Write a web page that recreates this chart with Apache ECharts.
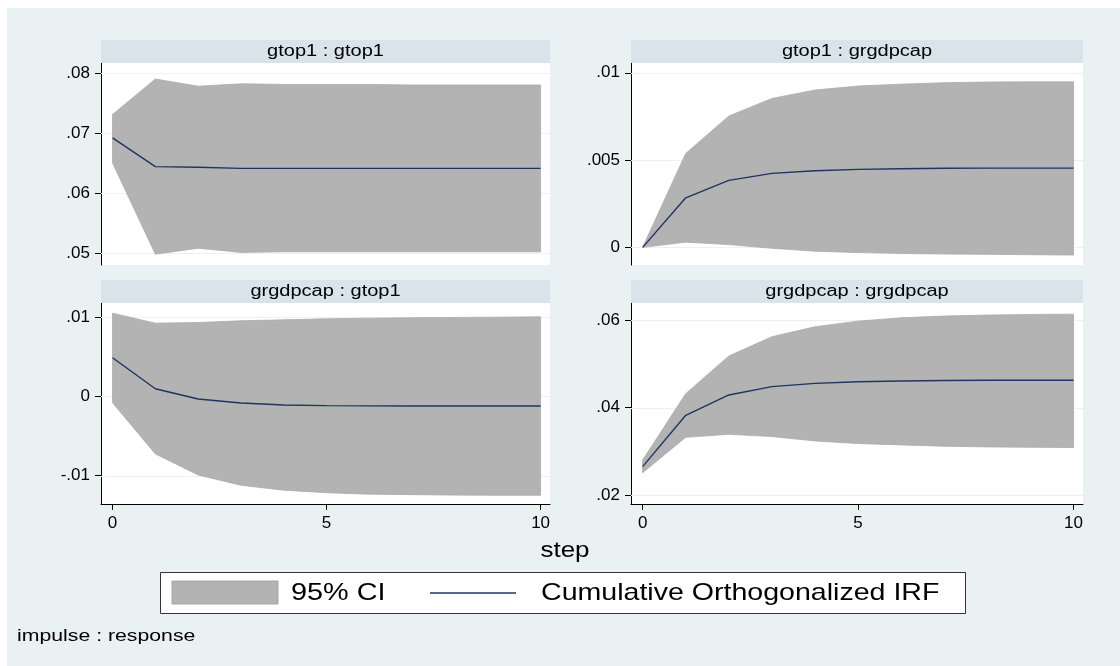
<!DOCTYPE html>
<html><head><meta charset="utf-8">
<script src="https://cdn.jsdelivr.net/npm/echarts@6/dist/echarts.min.js"></script>
<style>html,body{margin:0;padding:0;background:#fff}#c{width:1120px;height:666px}</style>
</head><body><div id="c"></div>
<script>
// ---------- data ----------
const steps = [0, 1, 2, 3, 4, 5, 6, 7, 8, 9, 10];
const panelTitles = ['gtop1 : gtop1', 'gtop1 : grgdpcap', 'grgdpcap : gtop1', 'grgdpcap : grgdpcap'];

const irf_gtop1_gtop1 = [0.0692, 0.0644, 0.0643, 0.0641, 0.0641, 0.0641, 0.0641, 0.0641, 0.0641, 0.0641, 0.0641];
const hi_gtop1_gtop1  = [0.0731, 0.0790, 0.0778, 0.0782, 0.0781, 0.0781, 0.0781, 0.0780, 0.0780, 0.0780, 0.0780];
const lo_gtop1_gtop1  = [0.0650, 0.0498, 0.0508, 0.0501, 0.0502, 0.0502, 0.0502, 0.0502, 0.0502, 0.0502, 0.0502];

const irf_gtop1_grgdpcap = [0, 0.00284, 0.00384, 0.00424, 0.00439, 0.00447, 0.00450, 0.00453, 0.00454, 0.00454, 0.00454];
const hi_gtop1_grgdpcap  = [0, 0.00538, 0.00752, 0.00853, 0.00901, 0.00924, 0.00935, 0.00943, 0.00947, 0.00948, 0.00948];
const lo_gtop1_grgdpcap  = [0, 0.00030, 0.00016, -0.00005, -0.00022, -0.00030, -0.00035, -0.00038, -0.00040, -0.00042, -0.00044];

const irf_grgdpcap_gtop1 = [0.00486, 0.00096, -0.00034, -0.00084, -0.00109, -0.00117, -0.00120, -0.00122, -0.00122, -0.00122, -0.00122];
const hi_grgdpcap_gtop1  = [0.01048, 0.00922, 0.00930, 0.00952, 0.00964, 0.00977, 0.00985, 0.00990, 0.00994, 0.00998, 0.01002];
const lo_grgdpcap_gtop1  = [-0.00080, -0.00725, -0.00990, -0.01120, -0.01182, -0.01214, -0.01232, -0.01238, -0.01244, -0.01246, -0.01246];

const irf_grgdpcap_grgdpcap = [0.02650, 0.03825, 0.04290, 0.04480, 0.04556, 0.04594, 0.04610, 0.04620, 0.04625, 0.04625, 0.04625];
const hi_grgdpcap_grgdpcap  = [0.02800, 0.04320, 0.05180, 0.05623, 0.05851, 0.05980, 0.06057, 0.06095, 0.06118, 0.06133, 0.06140];
const lo_grgdpcap_grgdpcap  = [0.02510, 0.03320, 0.03390, 0.03337, 0.03238, 0.03177, 0.03147, 0.03116, 0.03101, 0.03093, 0.03086];

const xTicks = [0, 5, 10];
const xTickLabels = ['0', '5', '10'];
const yTicks_p1 = [0.05, 0.06, 0.07, 0.08];   const yLabels_p1 = ['.05', '.06', '.07', '.08'];
const yTicks_p2 = [0, 0.005, 0.01];           const yLabels_p2 = ['0', '.005', '.01'];
const yTicks_p3 = [-0.01, 0, 0.01];           const yLabels_p3 = ['-.01', '0', '.01'];
const yTicks_p4 = [0.02, 0.04, 0.06];         const yLabels_p4 = ['.02', '.04', '.06'];

const legendLabels = ['95% CI', 'Cumulative Orthogonalized IRF'];
const xAxisTitle = 'step';
const noteText = 'impulse : response';

// ---------- layout / style ----------
const FONT = 'Liberation Sans, Arial, sans-serif';
const BG = '#EAF1F3', STRIP = '#D8E4EA', BAND = '#B3B3B3', BAND_EDGE = '#ABABAB', NAVY = '#1F3461', GRIDC = '#EAF2F3';
const grids = [
  {left: 101, top: 63,  width: 449, height: 202},
  {left: 631, top: 63,  width: 452, height: 202},
  {left: 101, top: 303, width: 449, height: 201},
  {left: 631, top: 303, width: 452, height: 201}
];
const yRanges = [[0.0480, 0.08167], [-0.00101, 0.01056], [-0.01356, 0.01176], [0.01794, 0.06395]];
const xRange = [-0.27, 10.22];

const panels = [
  {irf: irf_gtop1_gtop1, hi: hi_gtop1_gtop1, lo: lo_gtop1_gtop1, yt: yTicks_p1, yl: yLabels_p1},
  {irf: irf_gtop1_grgdpcap, hi: hi_gtop1_grgdpcap, lo: lo_gtop1_grgdpcap, yt: yTicks_p2, yl: yLabels_p2},
  {irf: irf_grgdpcap_gtop1, hi: hi_grgdpcap_gtop1, lo: lo_grgdpcap_gtop1, yt: yTicks_p3, yl: yLabels_p3},
  {irf: irf_grgdpcap_grgdpcap, hi: hi_grgdpcap_grgdpcap, lo: lo_grgdpcap_grgdpcap, yt: yTicks_p4, yl: yLabels_p4}
];

const chart = echarts.init(document.getElementById('c'), null, {renderer: 'canvas'});

const gridOpts = grids.map(g => Object.assign({show: true, backgroundColor: '#fff', borderWidth: 0, containLabel: false}, g));

const xAxes = grids.map((g, i) => {
  const bottom = i >= 2;
  return {
    type: 'value', gridIndex: i, min: xRange[0], max: xRange[1],
    axisLine: {show: bottom, onZero: false, lineStyle: {color: '#000', width: 1}},
    axisTick: {show: bottom, customValues: xTicks, length: 6, lineStyle: {color: '#000'}},
    axisLabel: {show: bottom, customValues: xTicks, fontSize: 17, fontFamily: FONT, color: '#000', margin: 11,
      formatter: v => xTickLabels[xTicks.indexOf(v)] ?? ''},
    splitLine: {show: false}
  };
});

const yAxes = panels.map((p, i) => ({
  type: 'value', gridIndex: i, min: yRanges[i][0], max: yRanges[i][1],
  axisLine: {show: true, onZero: false, lineStyle: {color: '#000', width: 1}},
  axisTick: {show: true, customValues: p.yt, length: 6, lineStyle: {color: '#000'}},
  axisLabel: {show: true, customValues: p.yt, fontSize: 17, fontFamily: FONT, color: '#000', margin: 11,
    formatter: v => { const k = p.yt.findIndex(t => Math.abs(t - v) < 1e-9); return k >= 0 ? p.yl[k] : ''; }},
  splitLine: {show: false}
}));

const series = [];
panels.forEach((p, i) => {
  series.push({
    type: 'custom', xAxisIndex: i, yAxisIndex: i, z: 1, silent: true,
    data: p.yt.map(v => [0, v]), encode: {x: 0, y: 1},
    renderItem: (params, api) => {
      const cs = params.coordSys;
      const y = Math.round(api.coord([0, api.value(1)])[1]) + 0.5;
      return {type: 'line', shape: {x1: cs.x, y1: y, x2: cs.x + cs.width, y2: y}, style: {stroke: GRIDC, lineWidth: 1}};
    }
  });
  series.push({
    type: 'custom', xAxisIndex: i, yAxisIndex: i, z: 2, silent: true,
    data: steps.map((s, k) => [s, p.lo[k], p.hi[k]]), encode: {x: 0, y: [1, 2]},
    renderItem: (params, api) => {
      if (params.dataIndex !== 0) return null;
      const pts = [];
      for (let k = 0; k < steps.length; k++) pts.push(api.coord([steps[k], p.hi[k]]));
      for (let k = steps.length - 1; k >= 0; k--) pts.push(api.coord([steps[k], p.lo[k]]));
      return {type: 'polygon', shape: {points: pts}, style: {fill: BAND, stroke: BAND_EDGE, lineWidth: 0.8}};
    }
  });
  series.push({
    type: 'line', xAxisIndex: i, yAxisIndex: i, z: 3, silent: true,
    data: steps.map((s, k) => [s, p.irf[k]]),
    showSymbol: false, symbol: 'none',
    lineStyle: {color: NAVY, width: 1.4}
  });
});

const graphic = [
  {type: 'rect', z: -10, shape: {x: 7, y: 8, width: 1113, height: 658}, style: {fill: BG}}
];
grids.forEach((g, i) => {
  const sy = i < 2 ? 40 : 280;
  graphic.push({type: 'rect', z: 5, shape: {x: g.left, y: sy, width: g.width, height: 23}, style: {fill: STRIP}});
  graphic.push({type: 'text', z: 6, x: g.left + g.width / 2, y: sy + 12, scaleX: 1.25,
    style: {text: panelTitles[i], x: 0, y: 0, fill: '#000', font: '16px ' + FONT, textAlign: 'center', textVerticalAlign: 'middle'}});
});
graphic.push({type: 'text', z: 6, x: 565, y: 551, scaleX: 1.18,
  style: {text: xAxisTitle, x: 0, y: 0, fill: '#000', font: '22px ' + FONT, textAlign: 'center', textVerticalAlign: 'middle'}});
// legend
graphic.push({type: 'rect', z: 6, shape: {x: 160.5, y: 572.5, width: 805, height: 41}, style: {fill: '#fff', stroke: '#333', lineWidth: 1}});
graphic.push({type: 'rect', z: 7, shape: {x: 172, y: 581, width: 106, height: 23}, style: {fill: BAND, stroke: '#A6A6A6', lineWidth: 1}});
graphic.push({type: 'text', z: 7, x: 291, y: 593, scaleX: 1.2,
  style: {text: legendLabels[0], x: 0, y: 0, fill: '#000', font: '24px ' + FONT, textAlign: 'left', textVerticalAlign: 'middle'}});
graphic.push({type: 'line', z: 7, shape: {x1: 430, y1: 593, x2: 516, y2: 593}, style: {stroke: NAVY, lineWidth: 1.6}});
graphic.push({type: 'text', z: 7, x: 541, y: 593, scaleX: 1.19,
  style: {text: legendLabels[1], x: 0, y: 0, fill: '#000', font: '24px ' + FONT, textAlign: 'left', textVerticalAlign: 'middle'}});
graphic.push({type: 'text', z: 7, x: 17, y: 636, scaleX: 1.25,
  style: {text: noteText, x: 0, y: 0, fill: '#000', font: '17px ' + FONT, textAlign: 'left', textVerticalAlign: 'middle'}});

chart.setOption({
  backgroundColor: '#fff',
  animation: false,
  grid: gridOpts,
  xAxis: xAxes,
  yAxis: yAxes,
  series: series,
  graphic: graphic
});
</script></body></html>
